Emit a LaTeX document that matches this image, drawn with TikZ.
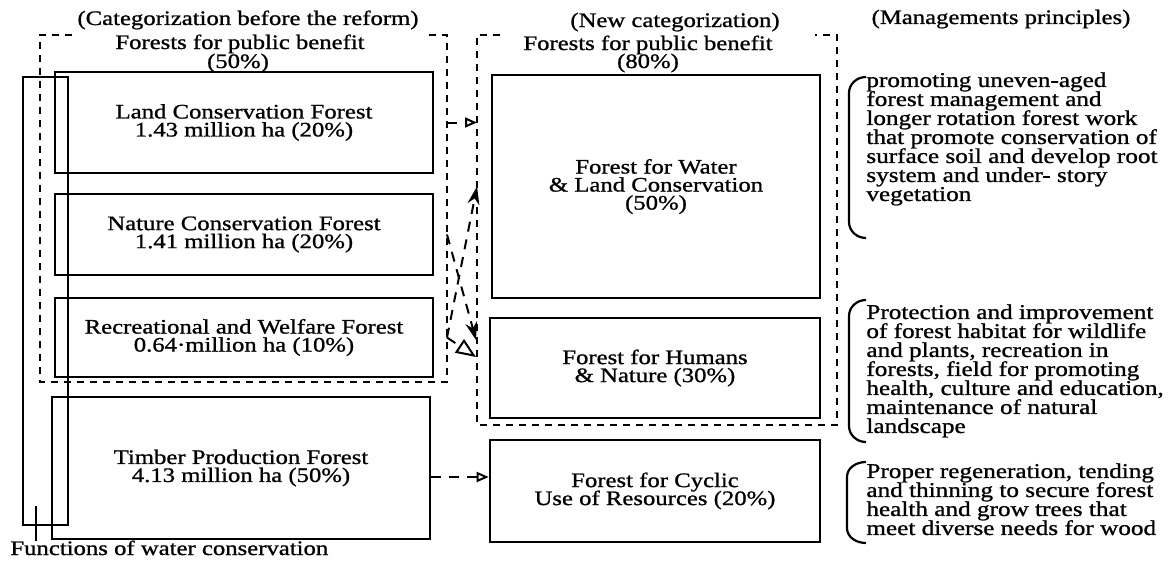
\documentclass[tikz,border=0pt]{standalone}
\usepackage{fontspec}
\setmainfont{Liberation Serif}[FakeStretch=1.2, FakeBold=1]
\usetikzlibrary{arrows.meta, positioning, calc}
\lineskiplimit=-100pt

\begin{document}
\begin{tikzpicture}[
						x=0.5pt, y=-0.5pt,
						font=\fontsize{10.3}{9}\selectfont,
						cat/.style = {draw, line width=1.3pt, rectangle, align=center, inner sep=0pt},
						oldcat/.style = {cat, minimum width=189pt},
						newcat/.style = {cat, minimum width=165pt},
						pub/.style = {line width=1pt, dash pattern=on 3.5pt off 3pt},
						link/.style = {line width=1pt, dash pattern=on 5pt off 4pt},
						rule/.style = {align=left, anchor=north west, inner sep=0pt, font=\fontsize{10.5}{9.5}\selectfont},
						brace/.style = {line width=1.1pt},
					]

\useasboundingbox (0,0) rectangle (1173,562);

% headings
\node[anchor=base] (h1) at (248,25) {(Categorization before the reform)};
\node[anchor=base] (p1) at (240,49) {Forests for public benefit};
\node[anchor=base] (s1) at (238,68) {(50\%)};
\node[anchor=base] (h2) at (675,27) {(New categorization)};
\node[anchor=base] (p2) at (648,50) {Forests for public benefit};
\node[anchor=base] (s2) at (648,68) {(80\%)};
\node[anchor=base] (h3) at (1001,24) {(Managements principles)};

% dashed frames
\draw[pub] (72,35) -| (40,382) -| (447,35) -- (425,35);
\draw[pub] (500,35) -| (477,425) -| (837,35) -- (815,35);
\coordinate (lr) at (447,0);
\coordinate (rl) at (477,0);

% before the reform
\node[oldcat, minimum height=50.5pt] (land) at (244,122.5) {Land Conservation Forest\\1.43 million ha (20\%)};
\node[oldcat, minimum height=40.5pt] (nature) at (244,234.5) {Nature Conservation Forest\\1.41 million ha (20\%)};
\node[oldcat, minimum height=39.5pt] (recr) at (244,337.5) {Recreational and Welfare Forest\\0.64·million ha (10\%)};
\node[oldcat, minimum height=71pt] (timber) at (241,468) {Timber Production Forest\\4.13 million ha (50\%)};
\node[cat, minimum width=22.5pt, minimum height=224pt] (wcf) at (45.5,301) {};
\node[anchor=base west, inner sep=0pt] (fwc) at (10,555) {Functions of water conservation};
\draw[line width=1.1pt] ($(wcf.south west)+(14,-20)$) -- ($(wcf.south west)+(14,15)$);

% new categories
\node[newcat, minimum width=164pt, minimum height=111.5pt] (fwl) at (656,186.5) {Forest for Water\\\& Land Conservation\\(50\%)};
\node[newcat, minimum height=50pt] (fhn) at (655,368) {Forest for Humans\\\& Nature (30\%)};
\node[newcat, minimum height=51pt] (fcr) at (655,491) {Forest for Cyclic\\Use of Resources (20\%)};

\coordinate (hin) at (476,340);
\coordinate (hin2) at (476,357);

\draw[link, -{Triangle[open, length=6pt, width=5pt]}] (land.east -| lr) -- (land.east -| rl);
\draw[link, -{Stealth[length=9pt, width=6pt]}] (recr.east -| lr) -- (fwl.west -| rl);
\draw[link, -{Stealth[length=9pt, width=6pt]}] (nature.east -| lr) -- (hin);
\draw[link, -{Triangle[open, length=10pt, width=8pt]}] (recr.east -| lr) -- (hin2);
\draw[link, -{Triangle[open, length=6pt, width=5pt]}] ([yshift=-4.5pt]timber.east) -- ([yshift=-4.5pt]timber.east -| fcr.west);

% management principles
\draw[brace] (866,77) to[out=180,in=90] (849,93) -- (849,222) to[out=-90,in=180] (866,238);
\draw[brace] (866,300) to[out=180,in=90] (849,316) -- (849,426) to[out=-90,in=180] (866,442);
\draw[brace] (866,462) to[out=180,in=90] (847,477) -- (847,528) to[out=-90,in=180] (866,543);

\node[rule] (m1) at (866,72) {promoting uneven-aged\\forest management and\\longer rotation forest work\\that promote conservation of\\surface soil and develop root\\system and under- story\\vegetation};
\node[rule] (m2) at (866,304) {Protection and improvement\\of forest habitat for wildlife\\and plants, recreation in\\forests, field for promoting\\health, culture and education,\\maintenance of natural\\landscape};
\node[rule] (m3) at (866,463) {Proper regeneration, tending\\and thinning to secure forest\\health and grow trees that\\meet diverse needs for wood};

\end{tikzpicture}
\end{document}
